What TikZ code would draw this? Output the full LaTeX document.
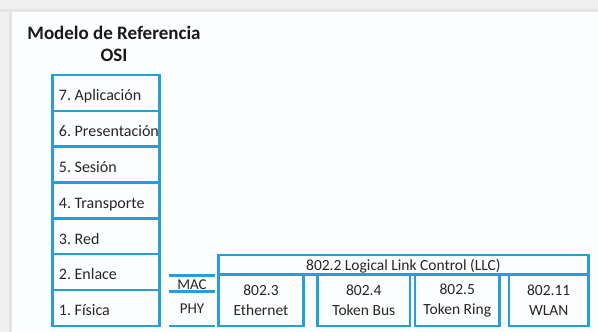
\documentclass[tikz,border=0pt]{standalone}
\usepackage{fontspec}
\setmainfont{Carlito}
\frenchspacing
\definecolor{osiblue}{RGB}{40,158,214}
\definecolor{ink}{RGB}{38,38,38}
\definecolor{paper}{RGB}{252,253,254}
\definecolor{bandlight}{RGB}{240,240,240}
\definecolor{banddark}{RGB}{228,228,228}
\tikzset{
  frame/.style={draw=osiblue, line width=2.6pt, outer sep=0pt, inner sep=0pt},
  layer/.style={frame, anchor=north west, minimum width=107.2pt, minimum height=35.83pt},
  layername/.style={anchor=base west, inner sep=0pt, font=\fontsize{16}{19}\selectfont, text=ink},
  stdbox/.style={frame, anchor=north west, minimum height=51.3pt, align=center,
    font=\fontsize{15.5}{20}\selectfont, text=ink},
  sublayer/.style={anchor=north west, inner sep=0pt, outer sep=0pt, minimum width=46pt,
    font=\fontsize{15}{18}\selectfont, text=ink},
  rule/.style={draw=osiblue, line width=2.6pt},
}
\begin{document}
\begin{tikzpicture}[x=1pt,y=-1pt]
% page and window chrome
\fill[paper] (0,0) rectangle (598,332);
\useasboundingbox (0,0) rectangle (598,332);
\fill[bandlight] (0,0) rectangle (598,12);
\fill[banddark] (0,9) rectangle (598,12);
\fill[bandlight] (0,12) rectangle (12,332);
\fill[banddark] (9,12) rectangle (12,332);

% title
\node[align=center, font=\bfseries\fontsize{19}{22}\selectfont, text=black!90,
      anchor=north, inner sep=0pt] (title) at (114,26) {Modelo de Referencia\\OSI};

% OSI stack
\node[layer] (l7) at (52.3,75)       {};
\node[layer] (l6) at (l7.south west) {};
\node[layer] (l5) at (l6.south west) {};
\node[layer] (l4) at (l5.south west) {};
\node[layer] (l3) at (l4.south west) {};
\node[layer] (l2) at (l3.south west) {};
\node[layer] (l1) at (l2.south west) {};
\foreach \n/\name in {7/7. Aplicación, 6/6. Presentación, 5/5. Sesión,
                      4/4. Transporte, 3/3. Red, 2/2. Enlace, 1/1. Física}
  \node[layername] (n\n) at ([shift={(6.4,25.8)}]l\n.north west) {\name};

% MAC / PHY sublayers
\node[sublayer, minimum height=15.6pt, text height=11pt, text depth=0pt] (mac) at (169,275.7) {MAC};
\node[sublayer, minimum height=34.6pt] (phy) at (mac.south west) {PHY};
\draw[rule] (mac.north west) -- (mac.north east);
\draw[rule] (mac.south west) -- (mac.south east);
\draw[rule] (phy.south west) -- (phy.south east);

% IEEE 802 family
\node[frame, anchor=north west, minimum width=369.7pt, minimum height=19.5pt,
      text height=11pt, text depth=0pt, font=\fontsize{15.5}{18}\selectfont, text=ink]
      (llc) at (218.6,255) {802.2 Logical Link Control (LLC)};
\node[stdbox, minimum width=84.7pt] (e3)  at (llc.south west) {802.3\\Ethernet};
\node[stdbox, minimum width=92.4pt] (e4)  at (317.6,274.5)    {802.4\\Token Bus};
\node[stdbox, minimum width=84.5pt] (e5)  at (415,274.5)      {802.5\\Token Ring};
\node[stdbox, minimum width=79.3pt] (e11) at (509,274.5)      {802.11\\WLAN};
\end{tikzpicture}
\end{document}
